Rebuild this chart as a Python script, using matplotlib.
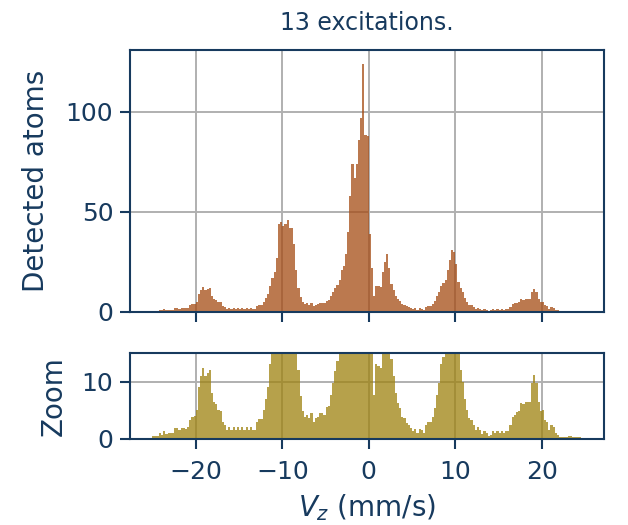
import numpy as np
import matplotlib
matplotlib.use("Agg")
import matplotlib.pyplot as plt

# histogram of detected atoms vs velocity, bins of 0.25 mm/s from -25 to 25
bin_lo = -25.0
bin_w = 0.25

counts_far_left = [0.5, 0.5, 0.5, 1, 0.7, 1.3, 0.8, 1, 1, 1,
                   1.9, 1.9, 1.5, 1.9, 1.9, 1.8, 2, 3.3, 3.9, 4,
                   5, 9, 11, 12.3, 11, 11.5, 12, 8, 6.5, 6,
                   5, 4.8, 3, 2.5, 1.5, 2, 1.5, 2, 1.5, 2,
                   1.5, 2, 1.5, 2, 1.5, 2, 1.5, 1.5, 3, 3.5]
counts_minus10 = [3.5, 5, 7, 9, 13, 17, 20, 27, 44, 45,
                  43, 44, 46, 42, 42, 34, 21, 12, 7.4, 4.8,
                  3.9, 4.2, 3.6, 4.5, 3, 3.6, 3.9, 4.5, 4.5, 4.2]
counts_center = [5.5, 5.7, 7.7, 9.7, 11.8, 13.5, 16, 21, 22.7, 29,
                 40, 58, 74, 67, 74, 86, 97, 124, 88.5, 88,
                 39, 22, 7.7, 13, 12.7, 12.3, 20, 25, 29, 22,
                 14, 10.9, 8, 6.2, 5.4, 3.9, 3.6, 2.7, 2.4, 1.9,
                 1.3, 1.7, 1, 1.7, 1.6, 1, 2.4, 3, 3, 3.9]
counts_plus10 = [5.4, 7.7, 9.8, 13, 14.3, 16, 21, 26, 31, 30,
                 24, 15, 12, 10, 7, 5, 3.6, 3.3, 2.4, 1.6,
                 2, 1.6, 0.9, 1.3, 1.1, 0.5, 0.7, 1.3, 1.0, 1.3]
counts_far_right = [1.0, 1.3, 1.1, 1.3, 1.3, 2.5, 3.9, 4.2, 4.6, 4.8,
                    6.3, 6, 6.4, 6.4, 6.5, 9.8, 11.2, 9.8, 6.5, 4.8,
                    5.1, 3.3, 3, 1.6, 2.5, 2.0, 1.0, 0.7, 0.4, 0.3,
                    0.3, 0.3, 0.5, 0.5, 0.4, 0.3, 0.3, 0.3, 0.2, 0]

counts = np.array(counts_far_left + counts_minus10 + counts_center
                  + counts_plus10 + counts_far_right)
edges = bin_lo + bin_w * np.arange(len(counts) + 1)
centers = 0.5 * (edges[:-1] + edges[1:])

navy = "#173a5e"
plt.rcParams.update({
    "text.color": navy,
    "axes.labelcolor": navy,
    "axes.edgecolor": navy,
    "xtick.color": navy,
    "ytick.color": navy,
    "axes.linewidth": 1.5,
    "xtick.major.width": 1.5,
    "ytick.major.width": 1.5,
    "xtick.major.size": 7,
    "ytick.major.size": 7,
    "xtick.major.pad": 8,
    "ytick.major.pad": 5,
    "xtick.labelsize": 18,
    "ytick.labelsize": 18,
    "axes.axisbelow": True,
})

fig = plt.figure(figsize=(6.28, 5.25), dpi=100)
ax1 = fig.add_axes([0.207, 0.406, 0.755, 0.499])
ax2 = fig.add_axes([0.207, 0.164, 0.755, 0.164], sharex=ax1)

ax1.hist(centers, bins=edges, weights=counts, color="#a54c14", alpha=0.75)
ax2.hist(centers, bins=edges, weights=counts, color="#9e820f", alpha=0.75)

for ax in (ax1, ax2):
    ax.grid(True, color="#b0b0b0", linewidth=1.4)

ax1.set_xlim(-27.6, 27.2)
ax1.set_xticks([-20, -10, 0, 10, 20])
ax1.tick_params(labelbottom=False)
ax1.set_ylim(0, 131)
ax1.set_yticks([0, 50, 100])
ax1.set_ylabel("Detected atoms", fontsize=20, labelpad=11)
ax1.set_title("13 excitations.", fontsize=17, pad=14)

ax2.set_ylim(0, 15)
ax2.set_yticks([0, 10])
ax2.set_ylabel("Zoom", fontsize=20, labelpad=10)
ax2.set_xlabel("$V_z$ (mm/s)", fontsize=20, labelpad=6)

fig.savefig("out.png", dpi=100)
